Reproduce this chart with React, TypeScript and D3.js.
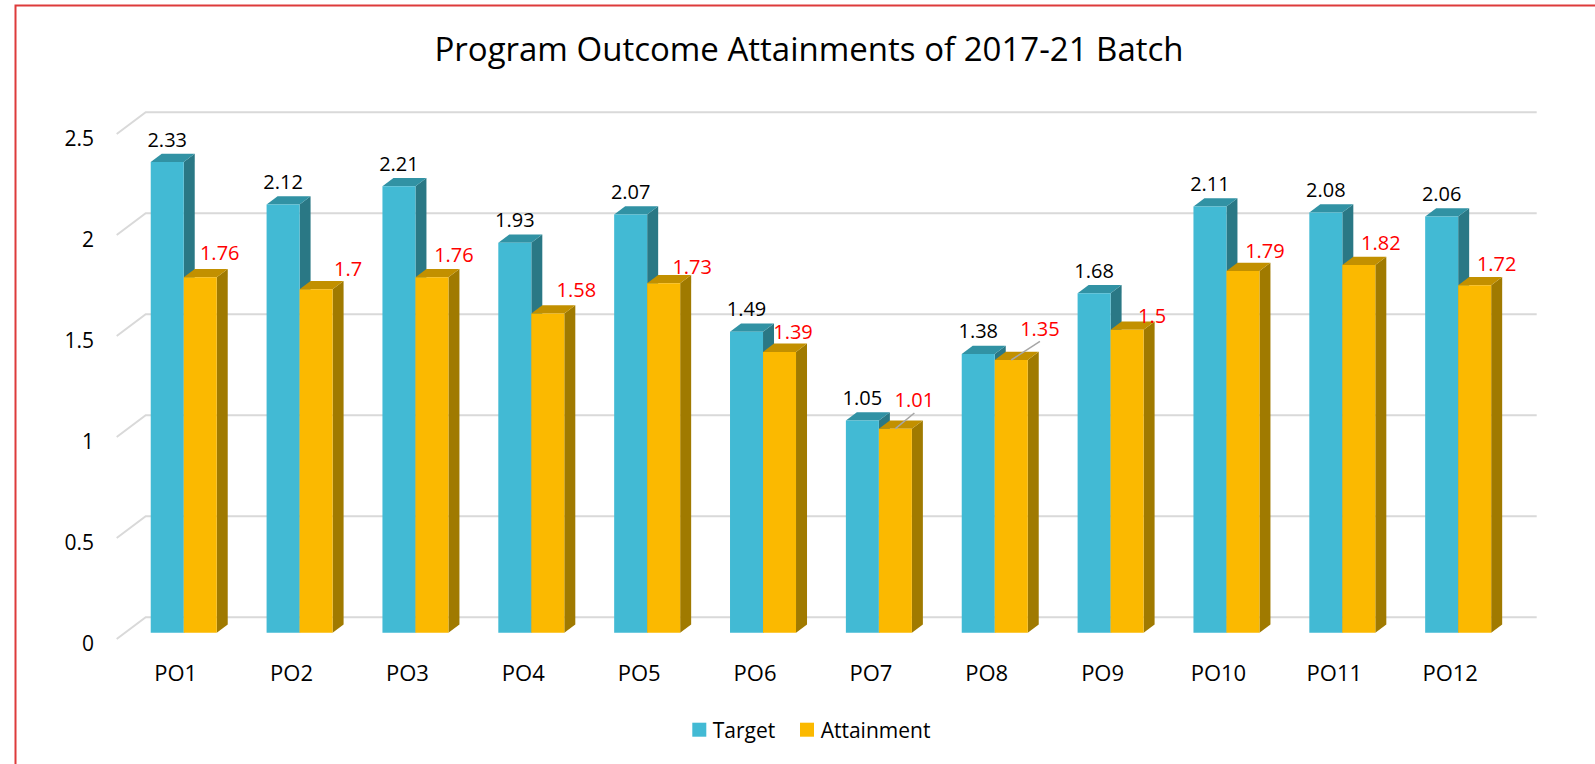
import React from "react";
import * as d3 from "d3";

const categories = ["PO1", "PO2", "PO3", "PO4", "PO5", "PO6", "PO7", "PO8", "PO9", "PO10", "PO11", "PO12"];
const targetValues = [2.33, 2.12, 2.21, 1.93, 2.07, 1.49, 1.05, 1.38, 1.68, 2.11, 2.08, 2.06];
const attainmentValues = [1.76, 1.7, 1.76, 1.58, 1.73, 1.39, 1.01, 1.35, 1.5, 1.79, 1.82, 1.72];
const yTicks = [0, 0.5, 1, 1.5, 2, 2.5];
const seriesNames = ["Target", "Attainment"];

// layout nudges for the red (attainment) data labels, as placed in the original
const attLabelDx = [19.5, 32, 22, 28.5, 28.5, 13.5, 19, 28.7, 25, 22, 22, 22];
const attLabelDy = [-24.7, -21, -23, -24.3, -16.5, -20, -28.7, -31.7, -14.5, -21, -23, -22];
const attLeader = [false, false, false, false, false, false, true, true, false, false, false, false];

const W = 1595;
const H = 764;
const FONT = "'Open Sans', 'DejaVu Sans', sans-serif";

const COLORS = {
  Target: { front: "#42BAD4", top: "#3192A4", side: "#2A7885" },
  Attainment: { front: "#FBB900", top: "#C29000", side: "#A07A00" },
};

const DX = 11; // bar depth x
const DY = 8.3; // bar depth y
const WALL_DX = 29; // gridline back offset
const WALL_DY = 21.7;

export default function App() {
  const y = d3.scaleLinear().domain([0, 2.5]).range([632.7, 127.7]);
  const x = d3.scaleBand<string>().domain(categories).range([125.8, 1516.1]).padding(0);
  const inner = d3.scaleBand<string>().domain(seriesNames).range([0, 66]).padding(0);
  const bw = inner.bandwidth();

  const wallLeft = 145.7;
  const wallRight = 1536.7;

  const barPoly = (x0: number, v: number) => {
    const yt = y(v);
    const yb = y(0);
    const front = `M${x0},${yt}H${x0 + bw}V${yb}H${x0}Z`;
    const top = `M${x0},${yt}L${x0 + DX},${yt - DY}H${x0 + bw + DX}L${x0 + bw},${yt}Z`;
    const side = `M${x0 + bw},${yt}L${x0 + bw + DX},${yt - DY}V${yb - DY}L${x0 + bw},${yb}Z`;
    return { front, top, side };
  };

  return (
    <svg
      width={W}
      height={H}
      style={{ position: "absolute", left: 0, top: 0, background: "#fff" }}
      fontFamily={FONT}
    >
      <rect x={0} y={0} width={W} height={H} fill="#fff" />
      <rect x={15.5} y={5.5} width={W + 50} height={H + 50} fill="none" stroke="#DD3B3B" strokeWidth={2} />

      <text x={809} y={61} textAnchor="middle" fontSize={33} fill="#000">
        Program Outcome Attainments of 2017-21 Batch
      </text>

      {/* gridlines */}
      <g stroke="#D9D9D9" strokeWidth={2} fill="none">
        {yTicks.map((t) => {
          const yb = y(t) - 15.4;
          return (
            <path
              key={t}
              d={`M${wallLeft - WALL_DX},${yb + WALL_DY}L${wallLeft},${yb}H${wallRight}`}
            />
          );
        })}
      </g>

      {/* y tick labels */}
      <g fontSize={21} fill="#000" textAnchor="end">
        {yTicks.map((t) => (
          <text key={t} x={94} y={y(t) - 15.4 + WALL_DY + 4} dominantBaseline="central">
            {String(t)}
          </text>
        ))}
      </g>

      {/* bars */}
      {categories.map((c, i) => {
        const cx = (x(c) as number) + x.bandwidth() / 2;
        const left = cx - 33;
        const vals = [targetValues[i], attainmentValues[i]];
        return (
          <g key={c}>
            {seriesNames.map((s, j) => {
              const x0 = left + (inner(s) as number);
              const p = barPoly(x0, vals[j]);
              const col = (COLORS as any)[s];
              return (
                <g key={s}>
                  <path d={p.side} fill={col.side} />
                  <path d={p.top} fill={col.top} />
                  <path d={p.front} fill={col.front} />
                </g>
              );
            })}
          </g>
        );
      })}

      {/* data labels */}
      {categories.map((c, i) => {
        const cx = (x(c) as number) + x.bandwidth() / 2;
        const tCx = cx - 33 + (inner("Target") as number) + bw / 2;
        const aCx = cx - 33 + (inner("Attainment") as number) + bw / 2;
        const tTop = y(targetValues[i]);
        const aTop = y(attainmentValues[i]);
        const lx = aCx + attLabelDx[i];
        const ly = aTop + attLabelDy[i];
        return (
          <g key={c} fontSize={20}>
            <text x={tCx} y={tTop - 23} textAnchor="middle" dominantBaseline="central" fill="#000">
              {String(targetValues[i])}
            </text>
            {attLeader[i] && (
              <line x1={aCx} y1={aTop} x2={lx} y2={ly + 13} stroke="#A6A6A6" strokeWidth={1.5} />
            )}
            <text x={lx} y={ly} textAnchor="middle" dominantBaseline="central" fill="#FF0000">
              {String(attainmentValues[i])}
            </text>
          </g>
        );
      })}

      {/* category labels */}
      <g fontSize={22} fill="#000" textAnchor="middle">
        {categories.map((c) => (
          <text key={c} x={(x(c) as number) + x.bandwidth() / 2 - 8} y={672} dominantBaseline="central">
            {c}
          </text>
        ))}
      </g>

      {/* legend */}
      <g fontSize={21} fill="#000">
        <rect x={692.3} y={722.7} width={14} height={14} fill={COLORS.Target.front} />
        <text x={712.7} y={729.7} dominantBaseline="central">{seriesNames[0]}</text>
        <rect x={800} y={722.7} width={14} height={14} fill={COLORS.Attainment.front} />
        <text x={820.7} y={729.7} dominantBaseline="central">{seriesNames[1]}</text>
      </g>
    </svg>
  );
}
